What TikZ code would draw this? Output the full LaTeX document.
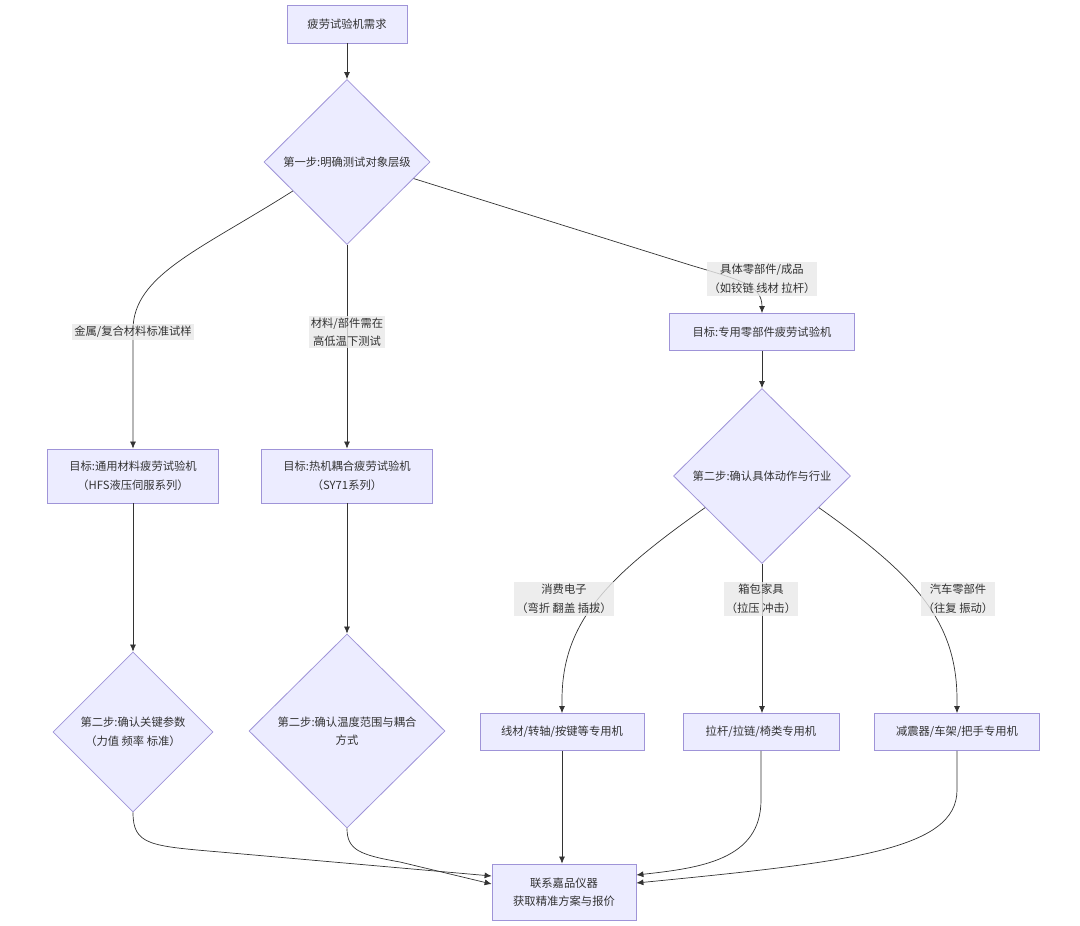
\documentclass[tikz,border=0pt]{standalone}
\usepackage{fontspec}
\setmainfont{Noto Sans CJK SC}
\usetikzlibrary{shapes.geometric,arrows.meta,calc}
\definecolor{nodefill}{HTML}{ECECFF}
\definecolor{nodeline}{HTML}{9F94D8}
\definecolor{inkgray}{HTML}{333333}
\definecolor{labelfill}{HTML}{E8E8E8}

\begin{document}
\begin{tikzpicture}[x=1pt, y=-1pt, >={Latex[length=7pt,width=6pt]}, font=\fontsize{11.3}{18.5}\selectfont, text=inkgray]
	\tikzstyle{box}=[rectangle,draw=nodeline,fill=nodefill,line width=0.8pt,align=center,inner sep=0pt,minimum height=37pt]
	\tikzstyle{choice}=[diamond,aspect=1,draw=nodeline,fill=nodefill,line width=0.8pt,align=center,inner sep=0pt]
	\tikzstyle{cond}=[fill=labelfill,fill opacity=0.8,text opacity=1,align=center,inner sep=2pt]
	\tikzstyle{link}=[->,draw=inkgray,line width=0.7pt]
	\useasboundingbox (0,0) rectangle (1080,926);
	% steps
	\node[box,minimum width=120pt,minimum height=38pt](need) at (347,24){疲劳试验机需求};
	\node[choice,minimum width=166pt,minimum height=165pt](level) at (347,162){第一步:明确测试对象层级};
	\node[box,minimum width=171pt,minimum height=54pt](general) at (133,476){目标:通用材料疲劳试验机\\（HFS液压伺服系列）};
	\node[box,minimum width=171pt,minimum height=54pt](thermal) at (347,476){目标:热机耦合疲劳试验机\\（SY71系列）};
	\node[box,minimum width=185pt](special) at (762,332){目标:专用零部件疲劳试验机};
	\node[choice,minimum width=177pt,minimum height=175pt](motion) at (762,476){第二步:确认具体动作与行业};
	\node[choice,minimum width=160pt,minimum height=160pt](params) at (133,732){第二步:确认关键参数\\（力值 频率 标准）};
	\node[choice,minimum width=196pt,minimum height=194pt](temp) at (347,731){第二步:确认温度范围与耦合\\方式};
	\node[box,minimum width=164pt](wire) at (562,732){线材/转轴/按键等专用机};
	\node[box,minimum width=156pt](rod) at (761,732){拉杆/拉链/椅类专用机};
	\node[box,minimum width=165pt](shock) at (957,732){减震器/车架/把手专用机};
	\node[box,minimum width=144pt,minimum height=56pt](contact) at (564,892){联系嘉品仪器\\获取精准方案与报价};
	% links
	\draw[link] (need) -- (level.north);
	\draw[link] (level.south) -- (thermal.north);
	\draw[link] (general) -- (params.north);
	\draw[link] (thermal) -- (temp.north);
	\draw[link] (special) -- (motion.north);
	\draw[link] (motion.south) -- (motion.south |- rod.north);
	\draw[link] (wire) -- (wire |- contact.north);
	\draw[link] ($(level.west)!0.35!(level.south)$) .. controls (200,250) and (133,275) .. (133,330) -- (general.north);
	\draw[link] ($(level.east)!0.2!(level.south)$) -- (690,265) .. controls (740,280) and (762,285) .. (special.north);
	\draw[link] ($(motion.west)!0.36!(motion.south)$) .. controls (610,575) and (562,620) .. (562,700) -- (wire.north);
	\draw[link] ($(motion.east)!0.36!(motion.south)$) .. controls (914,575) and (957,620) .. (957,700) -- (shock.north);
	\draw[link] (params.south) .. controls (133,845) and (150,846) .. (220,852) -- ([yshift=16pt]contact.west);
	\draw[link] (temp.south) .. controls (347,850) and (360,855) .. (400,862) -- ([yshift=8pt]contact.west);
	\draw[link] (rod.south) -- (761,800) .. controls (761,860) and (700,868) .. ([yshift=17pt]contact.east);
	\draw[link] (shock.south) -- (957,790) .. controls (957,850) and (850,862) .. ([yshift=9pt]contact.east);
	% conditions
	\node[cond](metal) at (133,332){金属/复合材料标准试样};
	\node[cond](hotcold) at (347,332){材料/部件需在\\高低温下测试};
	\node[cond](parts) at (762,279){具体零部件/成品\\（如铰链 线材 拉杆）};
	\node[cond](consumer) at (564,599){消费电子\\（弯折 翻盖 插拔）};
	\node[cond](luggage) at (761,599){箱包家具\\（拉压 冲击）};
	\node[cond](auto) at (958,599){汽车零部件\\（往复 振动）};
\end{tikzpicture}
\end{document}
